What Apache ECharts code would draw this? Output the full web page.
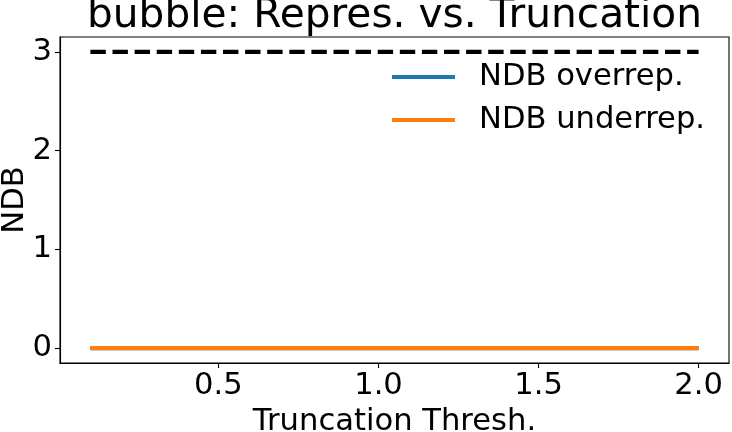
<!DOCTYPE html>
<html>
<head>
<meta charset="utf-8">
<script src="https://cdn.jsdelivr.net/npm/echarts@6/dist/echarts.min.js"></script>
<style>html,body{margin:0;padding:0;background:#fff}#c{width:732px;height:432px}</style>
</head>
<body>
<div id="c"></div>
<script>
const thresholds = [0.1, 0.2, 0.3, 0.4, 0.5, 0.6, 0.7, 0.8, 0.9, 1.0, 1.1, 1.2, 1.3, 1.4, 1.5, 1.6, 1.7, 1.8, 1.9, 2.0];
const ndbOverrep = [0, 0, 0, 0, 0, 0, 0, 0, 0, 0, 0, 0, 0, 0, 0, 0, 0, 0, 0, 0];
const ndbUnderrep = [0, 0, 0, 0, 0, 0, 0, 0, 0, 0, 0, 0, 0, 0, 0, 0, 0, 0, 0, 0];
const reference = [3, 3, 3, 3, 3, 3, 3, 3, 3, 3, 3, 3, 3, 3, 3, 3, 3, 3, 3, 3];
const xTicks = [0.5, 1.0, 1.5, 2.0];
const yTicks = [0, 1, 2, 3];

const FONT = 'DejaVu Sans';
const FS = 30.6;
const pairs = (xs, ys) => xs.map((x, i) => [x, ys[i]]);

const chart = echarts.init(document.getElementById('c'), null, {renderer: 'canvas'});
chart.setOption({
  animation: false,
  backgroundColor: '#ffffff',
  grid: {left: 60, right: 3, top: 37, bottom: 69, show: true, borderColor: '#000', borderWidth: 1.1,
    backgroundColor: 'transparent', containLabel: false, outerBoundsMode: 'none'},
  graphic: [{
    type: 'text',
    style: {x: 394.5, y: 37, text: 'bubble: Repres. vs. Truncation', textAlign: 'center', textVerticalAlign: 'bottom',
      font: '40.7px "DejaVu Sans"', fill: '#000'}
  }, {
    type: 'text', x: 15, y: 200, rotation: Math.PI / 2,
    style: {x: 0, y: 0, text: 'NDB', textAlign: 'center', textVerticalAlign: 'middle',
      font: FS + 'px "DejaVu Sans"', fill: '#000'}
  }],
  legend: {
    orient: 'vertical', left: 392, top: 61, padding: 0, itemWidth: 63, itemHeight: 4, itemGap: 11,
    icon: 'rect',
    textStyle: {fontFamily: FONT, fontSize: FS, color: '#000', padding: [0, 0, 0, 19], lineHeight: 32},
    data: [{name: 'NDB overrep.'}, {name: 'NDB underrep.'}]
  },
  xAxis: {
    type: 'value', min: 0.005, max: 2.095,
    name: 'Truncation Thresh.', nameLocation: 'middle', nameGap: 39,
    nameTextStyle: {fontFamily: FONT, fontSize: FS, color: '#000'},
    axisLine: {show: true, onZero: false, lineStyle: {color: '#000', width: 1.1}},
    axisTick: {show: true, length: 5, lineStyle: {color: '#000', width: 1.1}, customValues: xTicks},
    axisLabel: {fontFamily: FONT, fontSize: FS, color: '#000', margin: 8, customValues: xTicks,
      formatter: v => v.toFixed(1)},
    splitLine: {show: false}
  },
  yAxis: {
    type: 'value', min: -0.15, max: 3.15,
    axisLine: {show: true, onZero: false, lineStyle: {color: '#000', width: 1.1}},
    axisTick: {show: true, length: 5, lineStyle: {color: '#000', width: 1.1}, customValues: yTicks},
    axisLabel: {fontFamily: FONT, fontSize: FS, color: '#000', margin: 8, customValues: yTicks,
      formatter: v => String(v)},
    splitLine: {show: false}
  },
  series: [
    {name: 'reference', type: 'line', data: pairs(thresholds, reference), symbol: 'none',
      lineStyle: {color: '#000', width: 4.17, type: [15.4, 6.7], cap: 'butt'}, itemStyle: {color: '#000'}, z: 2},
    {name: 'NDB overrep.', type: 'line', data: pairs(thresholds, ndbOverrep), symbol: 'none',
      lineStyle: {color: '#1f77b4', width: 4.17}, itemStyle: {color: '#1f77b4'}, z: 3},
    {name: 'NDB underrep.', type: 'line', data: pairs(thresholds, ndbUnderrep), symbol: 'none',
      lineStyle: {color: '#ff7f0e', width: 4.17}, itemStyle: {color: '#ff7f0e'}, z: 4}
  ]
});
</script>
</body>
</html>
